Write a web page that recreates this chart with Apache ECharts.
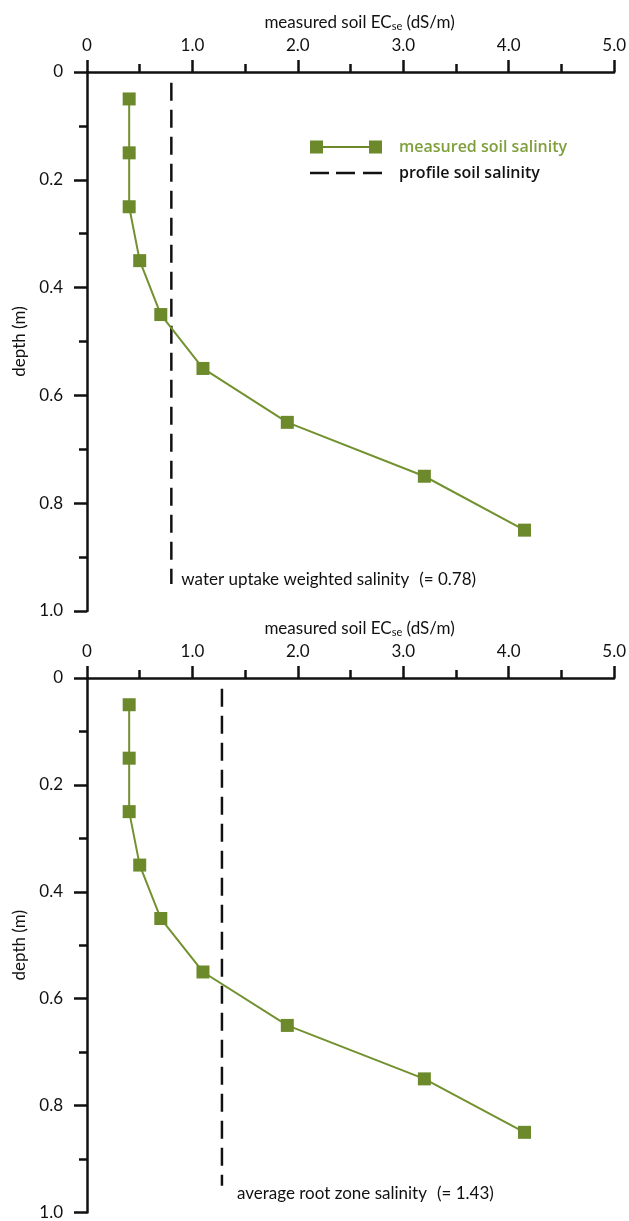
<!DOCTYPE html>
<html>
<head>
<meta charset="utf-8">
<script src="https://cdn.jsdelivr.net/npm/echarts@6/dist/echarts.min.js"></script>
<style>
  html, body { margin: 0; padding: 0; background: #fff; }
  #chart { width: 629px; height: 1221px; }
</style>
</head>
<body>
<div id="chart"></div>
<script>
// depth of each sampled layer (m) and its measured ECse (dS/m)
const depth = [0.05, 0.15, 0.25, 0.35, 0.45, 0.55, 0.65, 0.75, 0.85]
const ecMeasuredTop = [0.4, 0.4, 0.4, 0.5, 0.7, 1.1, 1.9, 3.2, 4.15]
const ecMeasuredBottom = [0.4, 0.4, 0.4, 0.5, 0.7, 1.1, 1.9, 3.2, 4.15]

// profile salinity lines, drawn where they sit in the picture
const profileDepth = [0.02, 0.95]
const profileTop = 0.8
const profileBottom = 1.28
const profileTopText = ['water uptake weighted salinity', '(= 0.78)']
const profileBottomText = ['average root zone salinity', '(= 1.43)']

const seriesNames = ['measured soil salinity', 'profile soil salinity']

const GREEN = '#6c8a2c'
const FONT = 'Lato'

const chart = echarts.init(document.getElementById('chart'))

function pairs(xs, ys) {
  return xs.map((x, i) => [x, ys[i]])
}

function xAxisOf(gridIndex) {
  return {
    gridIndex,
    type: 'value',
    position: 'top',
    min: 0,
    max: 5,
    interval: 1,
    name: '{a|measured soil EC}{s|se}{a| (dS/m)}',
    nameLocation: 'middle',
    nameGap: 40,
    nameTextStyle: {
      padding: [0, 0, 0, 18],
      rich: {
        a: { fontFamily: FONT, fontSize: 17, color: '#111' },
        s: { fontFamily: FONT, fontSize: 11, color: '#111', verticalAlign: 'bottom', padding: [8, 0, 0, 0] }
      }
    },
    axisLine: { lineStyle: { color: '#111', width: 2.5 } },
    axisTick: { length: 12, lineStyle: { color: '#111', width: 2.5 } },
    minorTick: { show: true, splitNumber: 2, length: 8, lineStyle: { color: '#111', width: 2.5 } },
    axisLabel: {
      margin: 18,
      fontFamily: FONT,
      fontSize: 17,
      color: '#111',
      formatter: v => (v === 0 ? '0' : v.toFixed(1))
    },
    splitLine: { show: false }
  }
}

function yAxisOf(gridIndex) {
  return {
    gridIndex,
    type: 'value',
    inverse: true,
    min: 0,
    max: 1,
    interval: 0.2,
    name: 'depth (m)',
    nameLocation: 'middle',
    nameGap: 58,
    nameTextStyle: { fontFamily: FONT, fontSize: 17, color: '#111' },
    axisLine: { lineStyle: { color: '#111', width: 2.5 } },
    axisTick: { length: 13, lineStyle: { color: '#111', width: 2.5 } },
    minorTick: { show: true, splitNumber: 2, length: 8, lineStyle: { color: '#111', width: 2.5 } },
    axisLabel: {
      margin: 24,
      fontFamily: FONT,
      fontSize: 17,
      color: '#111',
      formatter: v => (v === 0 ? '0' : v.toFixed(1))
    },
    splitLine: { show: false }
  }
}

function measuredSeries(idx, ec) {
  return {
    name: seriesNames[0],
    type: 'line',
    xAxisIndex: idx,
    yAxisIndex: idx,
    data: pairs(ec, depth),
    symbol: 'rect',
    symbolSize: 13,
    itemStyle: { color: GREEN },
    lineStyle: { color: '#72912f', width: 2 },
    z: 3
  }
}

function profileSeries(idx, ec, text, offset) {
  return {
    name: seriesNames[1],
    type: 'line',
    xAxisIndex: idx,
    yAxisIndex: idx,
    data: profileDepth.map(d => [ec, d]),
    symbol: 'none',
    itemStyle: { color: '#111' },
    lineStyle: { color: '#111', width: 2.5, type: [18, 9] },
    endLabel: {
      show: true,
      distance: 0,
      offset,
      formatter: `{a|${text[0]}}{b|${text[1]}}`,
      rich: {
        a: { fontFamily: FONT, fontSize: 17, color: '#111' },
        b: { fontFamily: FONT, fontSize: 17, color: '#111', padding: [0, 0, 0, 10] }
      }
    },
    z: 2
  }
}

chart.setOption({
  animation: false,
  grid: [
    { left: 87, top: 72, width: 528, height: 539 },
    { left: 87, top: 678, width: 528, height: 538 }
  ],
  xAxis: [xAxisOf(0), xAxisOf(1)],
  yAxis: [yAxisOf(0), yAxisOf(1)],
  legend: {
    left: 305,
    top: 134,
    orient: 'vertical',
    itemWidth: 72,
    itemHeight: 13,
    itemGap: 10,
    selectedMode: false,
    itemStyle: { borderWidth: 0 },
    data: [
      {
        name: seriesNames[0],
        icon: 'path://M0,0h13v13h-13z M13,5.5h46v2h-46z M59,0h13v13h-13z',
        textStyle: { color: '#7f9f3c', fontFamily: 'Open Sans', fontWeight: 600, fontSize: 16, lineHeight: 16, padding: [0, 0, 0, 12] }
      },
      {
        name: seriesNames[1],
        icon: 'path://M0,0h0.01v0.01h-0.01z M0,5.2h19v2.6h-19z M26,5.2h19v2.6h-19z M53,5.2h19v2.6h-19z M72,13h-0.01v-0.01h0.01z',
        textStyle: { color: '#111', fontFamily: 'Open Sans', fontWeight: 600, fontSize: 16, lineHeight: 16, padding: [0, 0, 0, 12] }
      }
    ]
  },
  series: [
    measuredSeries(0, ecMeasuredTop),
    profileSeries(0, profileTop, profileTopText, [10, -5]),
    measuredSeries(1, ecMeasuredBottom),
    profileSeries(1, profileBottom, profileBottomText, [15, 8])
  ]
})
</script>
</body>
</html>
